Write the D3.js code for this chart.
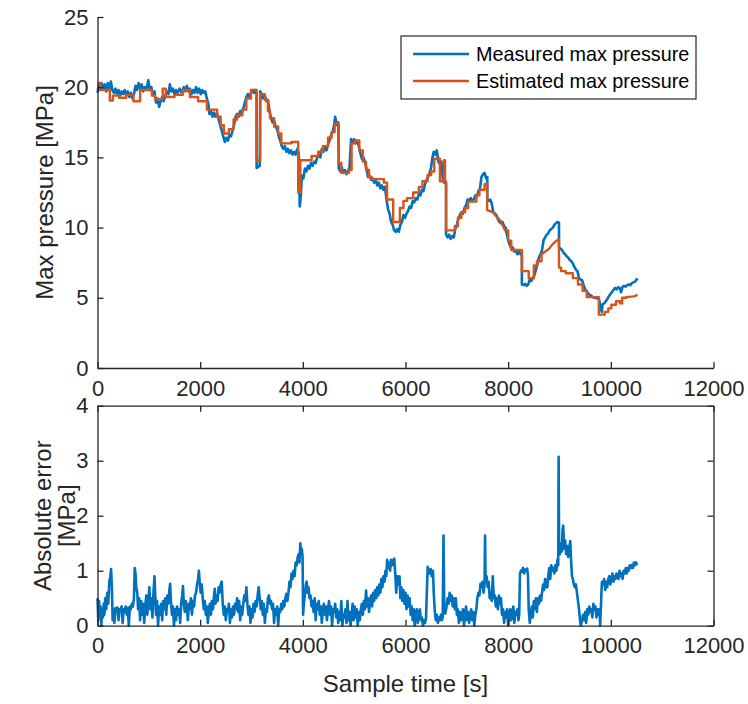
<!DOCTYPE html>
<html>
<head>
<meta charset="utf-8">
<script src="https://cdn.jsdelivr.net/npm/d3@7"></script>
<style>
  body { margin: 0; background: #fff; }
  svg { display: block; font-family: "Liberation Sans", Arial, Helvetica, sans-serif; }
</style>
</head>
<body>
<div id="chart"></div>
<script>
// ---- data ----
const seriesNames = ["Measured max pressure", "Estimated max pressure"];
const seriesColors = ["#0072BD", "#D95319"];

const xTicks = [0, 2000, 4000, 6000, 8000, 10000, 12000];
const yTicksTop = [0, 5, 10, 15, 20, 25];
const yTicksBottom = [0, 1, 2, 3, 4];

// [time s, pressure MPa]
const measuredMax = [
  [0,19.6],[25,20.2],[50,19.8],[80,20.3],[110,19.9],[140,20.2],[170,19.7],[200,20.3],[230,19.9],[260,20.4],
  [290,19.8],[320,19.6],[350,19.9],[380,19.5],[410,19.8],[440,19.4],[470,19.7],[500,19.5],[530,19.8],[560,19.4],
  [590,19.7],[620,19.3],[650,19.6],[680,19.2],[710,19.5],[740,20.1],[770,19.8],[800,20.3],[830,19.9],[860,20.2],
  [890,19.7],[920,20.0],[950,19.8],[990,20.5],[1020,19.8],[1050,20.0],[1080,19.5],[1110,19.7],[1140,18.9],[1170,19.2],
  [1200,18.6],[1230,19.0],[1260,19.3],[1290,19.0],[1320,19.4],[1350,19.7],[1380,19.5],[1410,20.2],[1440,19.7],[1470,19.9],
  [1500,19.5],[1530,19.8],[1560,19.6],[1600,19.9],[1640,19.6],[1680,20.0],[1710,19.7],[1740,20.1],[1770,19.7],[1800,19.9],
  [1830,19.5],[1860,19.8],[1890,19.6],[1920,20.0],[1950,19.6],[1980,19.9],[2010,19.5],[2040,19.8],[2070,19.6],[2100,19.7],
  [2130,19.2],[2160,18.8],[2180,18.1],[2210,18.3],[2240,17.9],[2270,18.2],[2300,17.9],[2330,18.1],[2360,17.7],[2390,17.3],
  [2420,16.9],[2450,16.5],[2480,16.1],[2510,16.4],[2540,16.2],[2570,16.6],[2600,16.5],[2630,16.9],[2660,17.3],[2690,17.9],
  [2720,18.1],[2750,17.9],[2780,18.3],[2810,18.1],[2840,18.5],[2870,18.9],[2900,19.3],[2930,19.5],[2960,19.3],[2990,19.6],
  [3020,19.8],[3050,19.6],[3080,19.8],[3100,19.6],[3100,14.25],[3160,14.4],[3170,19.7],[3200,19.5],[3230,19.2],[3260,19.4],
  [3290,19.0],[3320,19.1],[3350,18.3],[3380,17.8],[3410,17.5],[3440,17.6],[3470,17.2],[3500,17.0],[3530,16.5],[3560,16.2],
  [3590,15.8],[3620,15.6],[3650,15.8],[3680,15.4],[3710,15.6],[3740,15.3],[3770,15.5],[3800,15.2],[3830,15.4],[3860,15.2],
  [3890,15.6],[3920,15.3],[3940,11.5],[3960,12.2],[3980,13.7],[4010,13.5],[4040,14.2],[4070,14.0],[4100,14.4],[4130,14.2],
  [4160,14.6],[4190,14.4],[4220,14.7],[4250,14.6],[4280,15.0],[4310,15.2],[4340,15.0],[4370,15.6],[4400,15.4],[4430,15.7],
  [4460,15.5],[4490,15.9],[4520,16.2],[4550,16.6],[4580,16.8],[4610,17.3],[4630,17.9],[4660,17.3],[4690,17.5],[4700,14.2],
  [4730,14.0],[4760,14.3],[4790,13.9],[4820,14.1],[4850,13.8],[4880,14.0],[4910,14.3],[4940,16.3],[4970,16.0],[5000,16.3],
  [5030,16.0],[5060,16.2],[5090,15.8],[5120,15.3],[5150,14.9],[5180,15.0],[5210,14.7],[5240,14.2],[5270,13.6],[5300,13.7],
  [5330,13.4],[5360,13.5],[5390,13.2],[5420,13.4],[5450,13.0],[5480,13.2],[5510,12.8],[5540,13.0],[5570,12.7],[5600,12.9],
  [5630,12.0],[5660,11.3],[5690,11.0],[5720,10.4],[5750,10.2],[5780,9.8],[5810,9.7],[5840,9.9],[5870,9.7],[5900,10.2],
  [5930,10.4],[5960,10.9],[5990,10.7],[6020,11.0],[6050,11.2],[6080,11.5],[6110,11.4],[6140,11.9],[6170,11.8],[6200,12.1],
  [6230,12.0],[6260,12.4],[6290,12.3],[6320,12.7],[6350,12.6],[6380,13.1],[6410,13.4],[6440,13.6],[6470,13.9],[6500,14.3],
  [6520,14.9],[6550,15.4],[6580,15.2],[6610,15.5],[6640,14.7],[6670,14.5],[6700,14.7],[6730,13.3],[6760,13.2],[6790,13.1],
  [6790,9.5],[6820,9.3],[6850,9.5],[6880,9.2],[6910,9.4],[6940,9.3],[6970,9.9],[7000,10.2],[7030,10.6],[7060,10.9],
  [7090,11.1],[7120,11.0],[7150,11.4],[7180,11.6],[7210,12.0],[7240,11.9],[7270,12.1],[7300,11.9],[7330,12.0],[7360,12.3],
  [7390,12.2],[7420,12.6],[7450,12.8],[7480,13.6],[7510,13.8],[7540,13.9],[7570,13.5],[7594,13.6],[7594,12.0],[7620,11.9],
  [7650,12.0],[7680,11.7],[7710,11.1],[7740,11.0],[7770,10.9],[7800,10.6],[7830,10.4],[7860,10.3],[7890,10.4],[7920,10.1],
  [7950,10.0],[7970,9.6],[8000,9.1],[8030,8.8],[8060,8.5],[8090,8.6],[8120,8.3],[8150,8.4],[8180,8.1],[8210,8.3],
  [8240,8.1],[8267,8.2],[8267,5.95],[8300,5.9],[8330,6.0],[8360,5.85],[8390,5.95],[8420,6.3],[8450,6.2],[8480,6.4],
  [8510,6.6],[8540,7.0],[8570,7.4],[8600,7.9],[8630,8.1],[8660,8.4],[8690,9.1],[8720,9.3],[8750,9.5],[8780,9.6],
  [8810,9.8],[8840,9.9],[8870,10.0],[8900,10.2],[8930,10.3],[8960,10.4],[8990,10.35],[8990,8.6],[9020,8.5],[9050,8.4],
  [9080,8.2],[9110,8.1],[9140,7.95],[9170,7.85],[9200,7.7],[9230,7.6],[9260,7.45],[9290,7.2],[9320,7.0],[9350,6.9],
  [9380,6.4],[9410,6.3],[9440,6.25],[9470,5.9],[9500,5.6],[9530,5.45],[9560,5.3],[9590,5.2],[9620,5.15],[9650,5.05],
  [9680,5.0],[9710,5.0],[9740,4.95],[9770,4.9],[9800,4.3],[9825,4.0],[9840,4.55],[9870,4.6],[9900,4.75],[9930,4.9],
  [9960,5.1],[9990,5.25],[10020,5.4],[10050,5.55],[10080,5.7],[10110,5.6],[10140,5.75],[10170,5.7],[10200,5.4],[10230,5.8],
  [10260,5.85],[10290,5.8],[10320,5.9],[10350,5.95],[10380,5.9],[10410,6.05],[10440,6.1],[10470,6.15],[10500,6.3],[10530,6.35]
];

// [time s, pressure MPa] - stepwise estimate
const estimatedMax = [
  [0,20.3],[60,20.3],[60,19.8],[240,19.8],[240,19.05],[300,19.05],[300,19.4],[420,19.4],[420,19.25],[560,19.25],
  [560,19.45],[700,19.45],[700,19.0],[830,19.0],[830,19.8],[1060,19.8],[1060,19.4],[1120,19.4],[1120,19.15],[1270,19.15],
  [1270,19.9],[1330,19.9],[1330,19.3],[1500,19.3],[1500,19.45],[1660,19.45],[1660,19.8],[1800,19.8],[1800,19.3],[1960,19.3],
  [1960,19.0],[2130,19.0],[2130,18.4],[2330,18.4],[2330,17.9],[2400,17.9],[2400,17.3],[2460,17.3],[2460,16.7],[2560,16.7],
  [2560,17.0],[2650,17.0],[2650,17.7],[2720,17.7],[2720,18.0],[2820,18.0],[2820,18.4],[2900,18.4],[2900,19.2],[2990,19.2],
  [2990,19.8],[3100,19.8],[3100,14.8],[3170,14.8],[3170,19.5],[3260,19.5],[3260,19.1],[3320,19.1],[3320,18.3],[3360,18.3],
  [3360,17.8],[3440,17.8],[3440,17.2],[3520,17.2],[3520,16.7],[3580,16.7],[3580,16.0],[3780,16.0],[3780,16.1],[3910,16.1],
  [3910,12.5],[3950,12.5],[3950,14.8],[4170,14.8],[4170,15.1],[4300,15.1],[4300,15.4],[4390,15.4],[4390,15.8],[4490,15.8],
  [4490,16.4],[4560,16.4],[4560,16.8],[4620,16.8],[4620,17.4],[4700,17.4],[4700,14.6],[4750,14.6],[4750,13.9],[4900,13.9],
  [4900,14.1],[4950,14.1],[4950,16.0],[5020,16.0],[5020,16.2],[5100,16.2],[5100,15.5],[5170,15.5],[5170,14.7],[5230,14.7],
  [5230,14.1],[5290,14.1],[5290,13.6],[5340,13.6],[5340,13.45],[5580,13.45],[5580,13.2],[5640,13.2],[5640,12.0],[5760,12.0],
  [5760,10.4],[5890,10.4],[5890,11.4],[5960,11.4],[5960,11.9],[6030,11.9],[6030,12.1],[6150,12.1],[6150,12.5],[6260,12.5],
  [6260,12.9],[6330,12.9],[6330,13.3],[6430,13.3],[6430,13.75],[6500,13.75],[6500,14.0],[6560,14.0],[6560,14.9],[6670,14.9],
  [6670,13.3],[6750,13.3],[6750,14.8],[6770,14.8],[6770,13.3],[6790,13.3],[6790,9.8],[6960,9.8],[6960,10.1],[7020,10.1],
  [7020,10.7],[7090,10.7],[7090,11.1],[7160,11.1],[7160,11.4],[7220,11.4],[7220,11.85],[7380,11.85],[7380,12.3],[7440,12.3],
  [7440,12.7],[7540,12.7],[7540,13.1],[7590,13.1],[7590,11.25],[7700,11.1],[7770,10.8],[7850,10.5],[7900,10.1],[7940,9.8],
  [8000,9.8],[8000,9.07],[8060,9.07],[8060,8.4],[8267,8.4],[8267,6.9],[8400,6.9],[8400,6.4],[8500,6.4],[8500,7.3],
  [8560,7.3],[8560,7.6],[8650,7.6],[8650,8.1],[8720,8.3],[8800,8.5],[8850,8.75],[8920,9.0],[8990,9.2],[8990,7.15],
  [9030,7.15],[9030,6.9],[9120,6.9],[9120,6.75],[9260,6.75],[9260,6.4],[9360,6.4],[9360,5.95],[9450,5.95],[9450,5.5],
  [9530,5.5],[9530,5.05],[9766,5.05],[9766,3.8],[9880,3.8],[9880,4.0],[9950,4.0],[9950,4.25],[10010,4.25],[10010,4.5],
  [10100,4.5],[10100,4.75],[10180,4.75],[10180,4.6],[10220,4.6],[10220,5.0],[10300,5.0],[10300,5.05],[10450,5.1],[10520,5.2]
];

// [time s, absolute error MPa]
const absError = [
  [0,0.5],[15,0.1],[30,0.45],[45,0.2],[60,0.35],[75,0.0],[90,0.3],[105,0.15],[120,0.4],[135,0.2],[150,0.5],[170,0.3],
  [190,0.6],[210,0.4],[230,0.8],[250,0.9],[265,1.03],[280,0.7],[295,0.1],[310,0.3],[330,0.05],[350,0.32],[370,0.25],
  [390,0.33],[410,0.1],[430,0.3],[450,0.28],[470,0.35],[490,0.05],[510,0.3],[530,0.25],[550,0.35],[570,0.2],[590,0.32],
  [610,0.0],[630,0.35],[650,0.3],[670,0.4],[690,0.35],[710,0.5],[725,1.05],[740,0.95],[755,0.7],[775,0.6],[790,0.3],
  [810,0.5],[830,0.1],[850,0.45],[870,0.2],[890,0.4],[910,0.05],[930,0.35],[950,0.55],[970,0.2],[990,0.45],[1010,0.7],
  [1030,0.3],[1050,0.5],[1070,0.15],[1090,0.6],[1110,0.9],[1125,0.55],[1140,0.2],[1160,0.45],[1180,0.0],[1200,0.35],
  [1220,0.2],[1240,0.4],[1260,0.1],[1280,0.45],[1300,0.3],[1320,0.5],[1340,0.2],[1360,0.55],[1380,0.4],[1400,0.65],
  [1415,0.76],[1430,0.45],[1450,0.2],[1470,0.35],[1490,0.0],[1510,0.3],[1530,0.1],[1550,0.35],[1570,0.2],[1590,0.3],
  [1610,0.05],[1630,0.4],[1650,0.55],[1665,0.72],[1680,0.4],[1700,0.25],[1720,0.45],[1740,0.35],[1760,0.1],[1780,0.4],
  [1800,0.3],[1820,0.5],[1840,0.2],[1860,0.45],[1880,0.35],[1900,0.55],[1920,0.6],[1940,0.75],[1960,0.85],[1975,1.0],
  [1990,0.8],[2010,0.6],[2030,0.75],[2050,0.5],[2070,0.3],[2090,0.45],[2110,0.2],[2130,0.35],[2150,0.05],[2170,0.3],
  [2190,0.4],[2210,0.2],[2230,0.45],[2250,0.3],[2270,0.55],[2285,0.67],[2300,0.4],[2320,0.55],[2340,0.45],[2360,0.7],
  [2380,0.6],[2400,0.75],[2420,0.8],[2440,0.4],[2460,0.2],[2480,0.35],[2500,0.1],[2520,0.3],[2540,0.25],[2560,0.4],
  [2580,0.05],[2600,0.3],[2620,0.15],[2640,0.35],[2660,0.2],[2680,0.4],[2700,0.3],[2720,0.5],[2740,0.25],[2760,0.45],
  [2780,0.1],[2800,0.35],[2820,0.2],[2840,0.4],[2860,0.55],[2880,0.45],[2900,0.7],[2920,0.4],[2940,0.2],[2960,0.35],
  [2980,0.05],[3000,0.3],[3020,0.15],[3040,0.4],[3060,0.25],[3080,0.45],[3100,0.35],[3120,0.55],[3140,0.7],[3160,0.5],
  [3180,0.3],[3200,0.45],[3220,0.2],[3240,0.4],[3260,0.05],[3280,0.3],[3300,0.25],[3320,0.5],[3340,0.55],[3360,0.4],
  [3380,0.45],[3400,0.3],[3420,0.4],[3440,0.05],[3460,0.3],[3480,0.2],[3500,0.35],[3520,0.0],[3540,0.3],[3560,0.25],
  [3580,0.4],[3600,0.3],[3620,0.45],[3640,0.35],[3660,0.5],[3680,0.58],[3700,0.45],[3720,0.6],[3740,0.8],[3760,0.7],
  [3780,0.95],[3800,0.85],[3820,1.0],[3840,0.9],[3860,1.15],[3880,1.1],[3900,1.25],[3920,1.3],[3935,1.15],[3950,1.5],
  [3965,1.35],[3980,1.4],[3995,1.25],[4005,0.2],[4020,0.4],[4040,0.55],[4060,0.75],[4075,0.8],[4090,0.6],[4110,0.7],
  [4130,0.5],[4150,0.55],[4170,0.35],[4190,0.45],[4210,0.25],[4230,0.5],[4250,0.1],[4270,0.4],[4290,0.3],[4310,0.45],
  [4330,0.2],[4350,0.35],[4370,0.05],[4390,0.3],[4410,0.4],[4430,0.2],[4450,0.35],[4470,0.1],[4490,0.3],[4510,0.45],
  [4530,0.2],[4550,0.35],[4570,0.0],[4590,0.3],[4610,0.25],[4630,0.4],[4650,0.15],[4670,0.3],[4690,0.05],[4710,0.25],
  [4730,0.1],[4750,0.45],[4770,0.0],[4790,0.2],[4810,0.15],[4830,0.3],[4850,0.05],[4870,0.45],[4890,0.1],[4910,0.25],
  [4930,0.0],[4950,0.2],[4970,0.4],[4990,0.1],[5010,0.35],[5030,0.15],[5050,0.3],[5070,0.0],[5090,0.25],[5110,0.1],
  [5130,0.3],[5150,0.4],[5170,0.2],[5190,0.45],[5210,0.3],[5232,0.64],[5250,0.35],[5270,0.5],[5290,0.25],[5310,0.45],
  [5330,0.55],[5350,0.35],[5370,0.6],[5390,0.45],[5410,0.65],[5430,0.5],[5450,0.7],[5470,0.55],[5490,0.75],[5510,0.6],
  [5530,0.85],[5550,0.7],[5570,0.9],[5590,0.8],[5610,1.0],[5625,0.9],[5643,1.2],[5660,1.05],[5680,1.15],[5700,1.0],
  [5720,1.2],[5740,1.1],[5760,1.18],[5781,1.22],[5800,0.95],[5820,0.6],[5840,0.9],[5860,0.75],[5883,0.9],[5900,0.5],
  [5920,0.7],[5940,0.45],[5960,0.65],[5980,0.4],[6000,0.6],[6020,0.3],[6040,0.55],[6060,0.35],[6080,0.5],[6100,0.2],
  [6120,0.35],[6140,0.1],[6160,0.3],[6180,0.0],[6200,0.25],[6220,0.3],[6240,0.05],[6260,0.2],[6280,0.3],[6300,0.1],
  [6320,0.15],[6340,0.0],[6360,0.1],[6380,0.05],[6400,0.15],[6415,0.6],[6432,1.07],[6450,1.0],[6470,0.95],[6490,1.03],
  [6510,0.9],[6535,1.0],[6550,0.6],[6569,0.28],[6590,0.1],[6610,0.2],[6630,0.05],[6650,0.15],[6670,0.1],[6690,0.2],
  [6710,0.1],[6725,0.15],[6740,1.64],[6755,0.3],[6775,0.22],[6800,0.35],[6820,0.5],[6840,0.4],[6860,0.6],[6880,0.45],
  [6900,0.55],[6920,0.35],[6940,0.5],[6960,0.3],[6981,0.5],[7000,0.2],[7020,0.3],[7040,0.05],[7060,0.25],[7080,0.1],
  [7100,0.2],[7120,0.3],[7140,0.0],[7160,0.2],[7180,0.35],[7200,0.1],[7220,0.25],[7240,0.05],[7260,0.2],[7280,0.3],
  [7300,0.1],[7320,0.25],[7340,0.0],[7360,0.2],[7380,0.3],[7400,0.5],[7420,0.6],[7440,0.55],[7461,0.76],[7480,0.7],
  [7500,0.8],[7520,0.6],[7540,0.75],[7550,1.64],[7560,0.8],[7580,0.9],[7600,0.7],[7620,0.8],[7640,0.5],[7660,0.6],
  [7680,0.45],[7700,0.9],[7720,0.5],[7740,0.55],[7760,0.35],[7780,0.5],[7800,0.3],[7820,0.55],[7840,0.4],[7860,0.5],
  [7880,0.2],[7900,0.3],[7920,0.05],[7940,0.25],[7960,0.15],[7980,0.3],[8000,0.0],[8020,0.2],[8040,0.3],[8060,0.1],
  [8080,0.25],[8100,0.35],[8120,0.05],[8140,0.25],[8160,0.2],[8180,0.3],[8200,0.1],[8215,0.2],[8230,0.95],[8249,1.0],
  [8270,0.98],[8290,1.05],[8310,0.95],[8330,1.02],[8350,1.0],[8370,1.04],[8386,0.9],[8400,0.3],[8421,0.05],[8440,0.2],
  [8460,0.35],[8480,0.15],[8500,0.45],[8520,0.3],[8540,0.5],[8560,0.25],[8580,0.5],[8600,0.4],[8620,0.55],[8640,0.45],
  [8660,0.6],[8680,0.75],[8700,0.65],[8720,0.85],[8740,0.7],[8763,0.7],[8780,0.9],[8800,1.05],[8820,0.85],[8840,1.1],
  [8860,1.0],[8880,1.05],[8900,0.95],[8920,1.1],[8940,1.0],[8960,1.2],[8975,1.1],[8983,3.07],[8992,1.4],[9010,1.3],
  [9030,1.5],[9045,1.35],[9060,1.75],[9072,1.82],[9090,1.4],[9110,1.55],[9130,1.3],[9150,1.45],[9170,1.25],[9190,1.4],
  [9209,1.54],[9225,1.2],[9243,0.9],[9260,0.85],[9280,0.75],[9300,0.7],[9320,0.75],[9340,0.6],[9360,0.45],[9380,0.3],
  [9400,0.1],[9415,0.0],[9440,0.1],[9460,0.2],[9480,0.1],[9500,0.25],[9520,0.05],[9540,0.3],[9560,0.2],[9580,0.35],
  [9600,0.25],[9620,0.3],[9640,0.15],[9660,0.4],[9680,0.3],[9700,0.35],[9720,0.15],[9740,0.3],[9760,0.2],[9780,0.3],
  [9792,0.0],[9826,0.8],[9850,0.75],[9870,0.85],[9890,0.65],[9910,0.8],[9930,0.7],[9950,0.85],[9970,0.9],[9990,0.75],
  [10010,0.85],[10030,0.95],[10050,0.8],[10070,0.9],[10090,0.85],[10110,0.95],[10130,0.9],[10150,0.85],[10170,1.0],
  [10190,0.9],[10210,0.95],[10230,0.85],[10250,1.0],[10270,0.95],[10290,1.05],[10310,0.95],[10330,1.05],[10350,1.0],
  [10370,1.1],[10390,1.05],[10410,1.1],[10430,1.05],[10450,1.15],[10470,1.1],[10490,1.15],[10512,1.1]
];

// ---- layout ----
const W = 748, H = 704;
const axisColor = "#262626";
const tickFont = 22, labelFont = 24, legendFont = 19.8;
const fmt = d3.format("d");

const svg = d3.select("#chart").append("svg")
  .attr("width", W).attr("height", H);

const left = 97.5, right = 713.5;
const top1 = {y0: 17, y1: 368};
const bot1 = {y0: 405.7, y1: 625.7};

const x = d3.scaleLinear().domain([0, 12000]).range([left, right]);
const yTop = d3.scaleLinear().domain([0, 25]).range([top1.y1, top1.y0]);
const yBot = d3.scaleLinear().domain([0, 4]).range([bot1.y1, bot1.y0]);

function styleAxis(g) {
  g.selectAll("path.domain").attr("stroke", axisColor).attr("stroke-width", 1.3);
  g.selectAll(".tick line").attr("stroke", axisColor).attr("stroke-width", 1.3);
  g.selectAll(".tick text").attr("fill", axisColor)
    .style("font-size", tickFont + "px")
    .style("font-family", '"Liberation Sans", Arial, sans-serif');
}

// ---- top panel ----
const lineTop = d3.line().x(d => x(d[0])).y(d => yTop(d[1]));

svg.append("path").datum(measuredMax)
  .attr("d", lineTop).attr("fill", "none")
  .attr("stroke", seriesColors[0]).attr("stroke-width", 2.6)
  .attr("stroke-linejoin", "round");

svg.append("path").datum(estimatedMax)
  .attr("d", lineTop).attr("fill", "none")
  .attr("stroke", seriesColors[1]).attr("stroke-width", 2.4)
  .attr("stroke-linejoin", "round");

svg.append("g").attr("transform", `translate(0,${top1.y1})`)
  .call(d3.axisBottom(x).tickValues(xTicks).tickFormat(fmt).tickSizeInner(-6).tickSizeOuter(0).tickPadding(12))
  .call(styleAxis);

svg.append("g").attr("transform", `translate(${left},0)`)
  .call(d3.axisLeft(yTop).tickValues(yTicksTop).tickFormat(fmt).tickSizeInner(-6).tickSizeOuter(0).tickPadding(9))
  .call(styleAxis);

svg.append("text")
  .attr("transform", `translate(53,${(top1.y0 + top1.y1) / 2}) rotate(-90)`)
  .attr("text-anchor", "middle")
  .attr("fill", axisColor)
  .style("font-size", labelFont + "px")
  .text("Max pressure [MPa]");

// legend
const legend = svg.append("g").attr("transform", "translate(401,36)");
legend.append("rect")
  .attr("width", 295).attr("height", 63)
  .attr("fill", "#fff").attr("stroke", axisColor).attr("stroke-width", 1.2);
seriesNames.forEach((name, i) => {
  const yy = 18 + i * 27;
  legend.append("line")
    .attr("x1", 12).attr("x2", 68).attr("y1", yy).attr("y2", yy)
    .attr("stroke", seriesColors[i]).attr("stroke-width", 2.6);
  legend.append("text")
    .attr("x", 75).attr("y", yy).attr("dy", "0.35em")
    .attr("fill", "#000")
    .style("font-size", legendFont + "px")
    .text(name);
});

// ---- bottom panel ----
const lineBot = d3.line().x(d => x(d[0])).y(d => yBot(d[1]));

svg.append("path").datum(absError)
  .attr("d", lineBot).attr("fill", "none")
  .attr("stroke", seriesColors[0]).attr("stroke-width", 2.6)
  .attr("stroke-linejoin", "round");

svg.append("g").attr("transform", `translate(0,${bot1.y1})`)
  .call(d3.axisBottom(x).tickValues(xTicks).tickFormat(fmt).tickSizeInner(-6).tickSizeOuter(0).tickPadding(12))
  .call(styleAxis);

svg.append("g").attr("transform", `translate(${left},0)`)
  .call(d3.axisLeft(yBot).tickValues(yTicksBottom).tickFormat(fmt).tickSizeInner(-6).tickSizeOuter(0).tickPadding(9))
  .call(styleAxis);

// box: top and right mirrored ticks
svg.append("g").attr("transform", `translate(0,${bot1.y0})`)
  .call(d3.axisTop(x).tickValues(xTicks).tickSizeInner(-6).tickSizeOuter(0).tickFormat(""))
  .call(styleAxis);

svg.append("g").attr("transform", `translate(${right},0)`)
  .call(d3.axisRight(yBot).tickValues(yTicksBottom).tickSizeInner(-6).tickSizeOuter(0).tickFormat(""))
  .call(styleAxis);

const ylab = svg.append("text")
  .attr("transform", `translate(51,${(bot1.y0 + bot1.y1) / 2}) rotate(-90)`)
  .attr("text-anchor", "middle")
  .attr("fill", axisColor)
  .style("font-size", labelFont + "px");
ylab.append("tspan").attr("x", 0).attr("dy", 0).text("Absolute error");
ylab.append("tspan").attr("x", 0).attr("dy", "0.98em").text("[MPa]");

svg.append("text")
  .attr("x", (left + right) / 2).attr("y", 692)
  .attr("text-anchor", "middle")
  .attr("fill", axisColor)
  .style("font-size", labelFont + "px")
  .text("Sample time [s]");
</script>
</body>
</html>
